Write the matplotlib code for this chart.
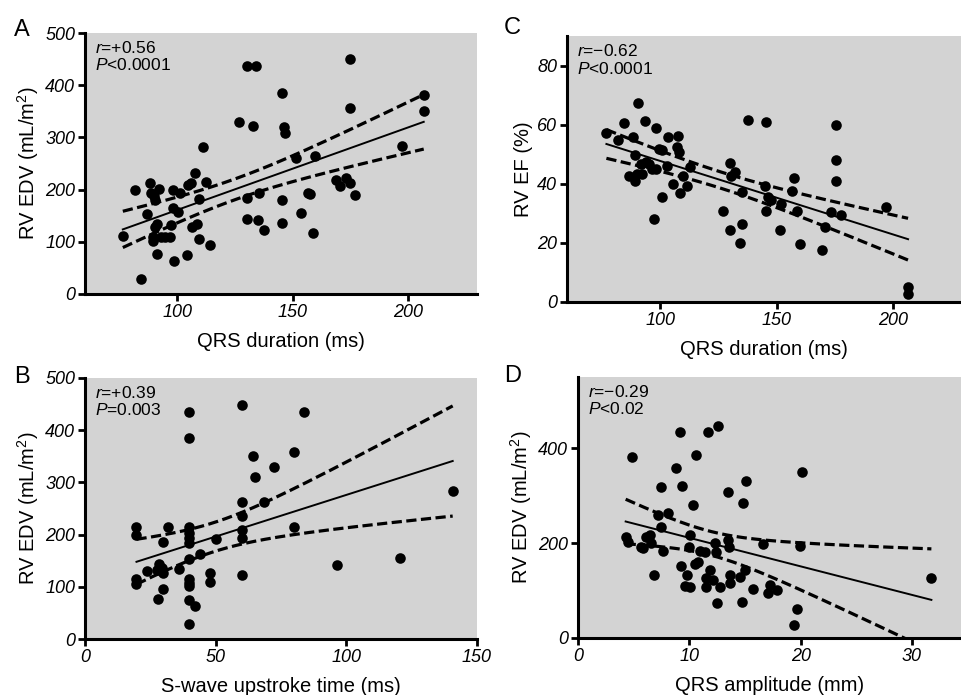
import numpy as np
import matplotlib
matplotlib.use("Agg")
import matplotlib.pyplot as plt

plt.rcParams['font.family'] = ['Liberation Sans', 'DejaVu Sans']
plt.rcParams['mathtext.fontset'] = 'custom'
plt.rcParams['mathtext.rm'] = 'Liberation Sans'
plt.rcParams['mathtext.it'] = 'Liberation Sans:italic'

# ---- panel A: QRS duration vs RV EDV ----
a_x = [76.4, 81.5, 84.1, 86.7, 88.2, 88.7, 89.9, 90.5, 91.9, 89.5, 89.5, 90.5, 91.3, 91.3,
       92.8, 94.5, 96.7, 97.4, 98.1, 98.1, 100.3, 98.8, 101.3, 104.2, 104.5, 106.1, 106.4,
       107.8, 108.6, 109.4, 109.4, 111.3, 112.6, 114.0, 127.0, 130.3, 134.2, 132.8, 130.3,
       130.3, 135.3, 135.0, 137.6, 145.5, 146.2, 146.9, 145.5, 145.5, 151.6, 153.5, 156.6,
       157.4, 158.8, 159.8, 169.0, 170.8, 173.3, 175.1, 175.1, 175.1, 177.3, 197.5, 206.9, 206.9]
a_y = [112, 199, 29, 153, 212, 193, 187, 180, 201, 110, 102, 129, 134, 77,
       109, 109, 110, 132, 199, 164, 157, 63, 193, 75, 208, 213, 128,
       231, 134, 182, 106, 281, 214, 94, 330, 437, 437, 321, 183,
       144, 193, 142, 123, 386, 320, 309, 180, 136, 260, 156, 193,
       192, 116, 265, 219, 206, 222, 212, 450, 357, 190, 284, 382, 350]

# ---- panel C: QRS duration vs RV EF ----
c_x = [76.9, 81.8, 84.6, 88.5, 90.5, 93.3, 98.3, 89.1, 86.7, 89.1, 90.2, 91.6, 92.3, 93.7,
       95.1, 96.5, 97.2, 98.3, 99.3, 100.7, 100.7, 102.8, 103.5, 105.3, 107.0, 107.7, 108.1,
       108.4, 109.8, 111.5, 112.6, 126.9, 130.1, 130.5, 132.2, 130.1, 134.3, 135.0, 135.0,
       137.5, 145.5, 145.0, 146.2, 147.3, 145.5, 151.5, 152.0, 157.3, 156.6, 158.5, 159.9,
       169.2, 170.6, 173.4, 175.2, 175.2, 175.2, 177.6, 196.8, 206.3, 206.3]
c_y = [57.1, 54.9, 60.7, 55.8, 67.4, 61.4, 58.9, 49.6, 42.5, 40.9, 43.4, 46.8, 43.4, 47.3,
       46.8, 45.1, 28.2, 45.1, 51.8, 51.5, 35.5, 45.9, 55.8, 40.0, 52.4, 56.3, 50.7,
       36.8, 42.8, 39.4, 45.6, 30.8, 47.1, 42.5, 43.9, 24.2, 20.1, 26.5, 37.2,
       61.7, 60.8, 39.4, 35.5, 34.4, 30.8, 24.5, 33.2, 42.0, 37.7, 30.8, 19.7,
       17.5, 25.4, 30.4, 59.9, 47.9, 40.9, 29.3, 32.1, 5.1, 2.8]

# ---- panel B: S-wave upstroke time vs RV EDV ----
b_x = [19.7, 19.7, 19.7, 19.7, 23.8, 27.6, 28.3, 27.9, 29.9, 29.6, 29.9, 29.9, 31.9, 36.0,
       39.8, 39.8, 39.8, 39.8, 39.8, 39.8, 39.8, 39.8, 39.8, 39.8, 39.8, 39.8, 42.0, 44.1,
       48.0, 48.0, 50.1, 60.0, 60.0, 60.0, 60.0, 60.0, 60.0, 64.3, 65.2, 68.5, 72.4, 80.0,
       80.0, 83.9, 96.4, 120.6, 140.7]
b_y = [215, 200, 114, 106, 131, 133, 144, 77, 95, 136, 126, 185, 214, 134,
       435, 386, 215, 203, 194, 183, 154, 115, 107, 101, 75, 29, 63, 163,
       126, 109, 192, 448, 262, 235, 208, 194, 123, 350, 310, 262, 330, 358,
       214, 435, 141, 155, 284]

# ---- panel D: QRS amplitude vs RV EDV ----
d_x = [4.28, 4.49, 4.85, 5.69, 5.84, 6.14, 6.44, 6.59, 6.83, 7.49, 7.49, 7.19, 7.63, 8.08,
       8.83, 9.13, 9.22, 9.37, 9.79, 9.58, 10.03, 9.97, 10.09, 10.33, 10.63, 10.48, 10.78,
       10.99, 11.38, 11.53, 11.53, 11.68, 11.83, 12.13, 12.34, 12.43, 12.6, 12.72, 12.49,
       13.47, 13.47, 13.56, 13.68, 13.68, 14.58, 14.82, 14.97, 15.06, 14.76, 15.72, 16.62,
       17.1, 17.28, 17.9, 19.67, 19.37, 19.97, 20.09, 31.74]
d_y = [213, 203, 381, 192, 189, 213, 217, 201, 132, 319, 233, 259, 184, 263,
       358, 435, 151, 320, 132, 109, 108, 192, 218, 280, 386, 156, 161,
       184, 182, 108, 127, 435, 143, 123, 201, 182, 447, 108, 74,
       308, 206, 192, 132, 115, 129, 284, 143, 330, 76, 104, 199,
       94, 111, 102, 62, 27, 194, 349, 127]

panels = [
    dict(x=a_x, y=a_y, letter='A', stats=('+0.56', '<0.0001'), xlabel='QRS duration (ms)',
         ylabel='RV EDV (mL/m$^2$)', xlim=(60, 230), ylim=(0, 500),
         xticks=[100, 150, 200], yticks=[0, 100, 200, 300, 400, 500],
         rect=(85, 33, 477, 294), letter_xy=(14, 30)),
    dict(x=c_x, y=c_y, letter='C', stats=('\u22120.62', '<0.0001'), xlabel='QRS duration (ms)',
         ylabel='RV EF (%)', xlim=(60, 229), ylim=(0, 90),
         xticks=[100, 150, 200], yticks=[0, 20, 40, 60, 80],
         rect=(567, 36, 961, 302), letter_xy=(504, 28)),
    dict(x=b_x, y=b_y, letter='B', stats=('+0.39', '=0.003'), xlabel='S-wave upstroke time (ms)',
         ylabel='RV EDV (mL/m$^2$)', xlim=(0, 150), ylim=(0, 500),
         xticks=[0, 50, 100, 150], yticks=[0, 100, 200, 300, 400, 500],
         rect=(85, 378, 477, 639), letter_xy=(14, 377)),
    dict(x=d_x, y=d_y, letter='D', stats=('\u22120.29', '<0.02'), xlabel='QRS amplitude (mm)',
         ylabel='RV EDV (mL/m$^2$)', xlim=(0, 34.4), ylim=(0, 550),
         xticks=[0, 10, 20, 30], yticks=[0, 200, 400],
         rect=(578, 377, 961, 638), letter_xy=(504, 376)),
]

W, H = 961, 695
fig = plt.figure(figsize=(W / 100, H / 100), dpi=100)


def fit_with_ci(x, y):
    x = np.asarray(x, float)
    y = np.asarray(y, float)
    n = len(x)
    slope, icpt = np.polyfit(x, y, 1)
    resid = y - (slope * x + icpt)
    s = np.sqrt(np.sum(resid ** 2) / (n - 2))
    sxx = np.sum((x - x.mean()) ** 2)
    xs = np.linspace(x.min(), x.max(), 200)
    yh = slope * xs + icpt
    half = 2.0 * s * np.sqrt(1.0 / n + (xs - x.mean()) ** 2 / sxx)  # ~95% band
    return xs, yh, yh - half, yh + half


for p in panels:
    l, t, r, b = p['rect']
    ax = fig.add_axes([l / W, 1 - b / H, (r - l) / W, (b - t) / H])
    ax.set_facecolor('#d3d3d3')
    ax.scatter(p['x'], p['y'], s=58, color='black', zorder=3, linewidths=0)
    xs, yh, lo, hi = fit_with_ci(p['x'], p['y'])
    ax.plot(xs, yh, color='black', lw=1.4, zorder=2)
    ax.plot(xs, lo, color='black', lw=2.3, ls=(0, (3.2, 1.4)), zorder=2)
    ax.plot(xs, hi, color='black', lw=2.3, ls=(0, (3.2, 1.4)), zorder=2)
    ax.set_xlim(*p['xlim'])
    ax.set_ylim(*p['ylim'])
    ax.set_xticks(p['xticks'], labels=[str(v) for v in p['xticks']],
                  fontstyle='italic', fontsize=13)
    ax.set_yticks(p['yticks'], labels=[str(v) for v in p['yticks']],
                  fontstyle='italic', fontsize=13)
    for side in ['top', 'right']:
        ax.spines[side].set_visible(False)
    for side in ['left', 'bottom']:
        ax.spines[side].set_linewidth(2.2)
    ax.tick_params(direction='out', length=5, width=2.0, pad=2)
    ax.set_xlabel(p['xlabel'], fontsize=14.5, labelpad=8)
    ax.set_ylabel(p['ylabel'], fontsize=14.5, labelpad=3)
    r_txt, p_txt = p['stats']
    ax.text(0.025, 0.975, '$r$=' + r_txt + '\n$P$' + p_txt, transform=ax.transAxes,
            ha='left', va='top', fontsize=12.5, linespacing=1.15)
    lx, ly = p['letter_xy']
    fig.text(lx / W, 1 - ly / H, p['letter'], ha='left', va='center', fontsize=17)

fig.savefig('out.png', dpi=100)
